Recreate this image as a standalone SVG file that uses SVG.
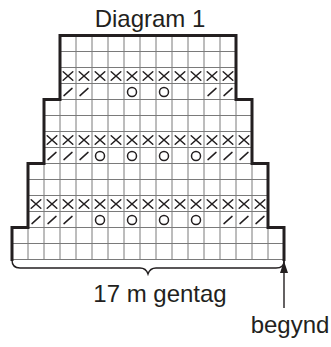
<svg xmlns="http://www.w3.org/2000/svg" xmlns:xlink="http://www.w3.org/1999/xlink" width="331" height="347" viewBox="0 0 331 347">
  <style>
    .txt { font-family: "Liberation Sans", Arial, Helvetica, sans-serif; fill: #231f20; text-anchor: middle; }
    .grid { fill: none; stroke: #7a7a7a; stroke-width: 1; }
    .outline { fill: none; stroke: #231f20; stroke-width: 3; stroke-linejoin: miter; stroke-linecap: square; }
    .sym { fill: none; stroke: #231f20; stroke-width: 1.5; stroke-linecap: round; }
    .conn { fill: none; stroke: #231f20; stroke-width: 1.4; }
  </style>
  <defs>
    <path id="x" class="sym" d="M-4.8,-4.3 L4.8,4.3 M-4.8,4.3 L4.8,-4.3"/>
    <path id="s" class="sym" d="M-4,3.6 L4,-3.6"/>
    <circle id="o" class="sym" cx="0" cy="0" r="4.5"/>
    <marker id="arrowhead" markerWidth="12" markerHeight="8" refX="12" refY="4" orient="auto" markerUnits="userSpaceOnUse" viewBox="0 0 12 8">
      <path d="M0,0 L12,4 L0,8 Z" fill="#231f20"/>
    </marker>
  </defs>
  <rect width="331" height="347" fill="#ffffff"/>

  <g id="title">
    <text class="txt" x="150" y="27" font-size="24">Diagram 1</text>
  </g>

  <g id="chart">
    <path class="grid" d="
      M60,51.5 H236 M60,67.5 H236 M60,83.5 H236
      M44,99.5 H252 M44,115.5 H252 M44,131.5 H252 M44,147.5 H252
      M28,163.5 H268 M28,179.5 H268 M28,195.5 H268 M28,211.5 H268
      M12,227.5 H284 M12,243.5 H284 M12,259.5 H284
      M76,35.5 V259.5 M92,35.5 V259.5 M108,35.5 V259.5 M124,35.5 V259.5 M140,35.5 V259.5
      M156,35.5 V259.5 M172,35.5 V259.5 M188,35.5 V259.5 M204,35.5 V259.5 M220,35.5 V259.5
      M60,99.5 V259.5 M236,99.5 V259.5
      M44,163.5 V259.5 M252,163.5 V259.5
      M28,227.5 V259.5 M268,227.5 V259.5"/>
    <path class="outline" d="M12,259.5 V227.5 H28 V163.5 H44 V99.5 H60 V35.5 H236 V99.5 H252 V163.5 H268 V227.5 H284 V259.5"/>
  </g>

  <g id="row-x-top">
    <use xlink:href="#x" x="68" y="76"/><use xlink:href="#x" x="84" y="76"/><use xlink:href="#x" x="100" y="76"/>
    <use xlink:href="#x" x="116" y="76"/><use xlink:href="#x" x="132" y="76"/><use xlink:href="#x" x="148" y="76"/>
    <use xlink:href="#x" x="164" y="76"/><use xlink:href="#x" x="180" y="76"/><use xlink:href="#x" x="196" y="76"/>
    <use xlink:href="#x" x="212" y="76"/><use xlink:href="#x" x="228" y="76"/>
  </g>
  <g id="row-sym-top">
    <use xlink:href="#s" x="68" y="92"/><use xlink:href="#s" x="84" y="92"/>
    <use xlink:href="#o" x="132" y="92"/><use xlink:href="#o" x="164" y="92"/>
    <use xlink:href="#s" x="212" y="92"/><use xlink:href="#s" x="228" y="92"/>
  </g>

  <g id="row-x-middle">
    <use xlink:href="#x" x="52" y="140"/><use xlink:href="#x" x="68" y="140"/><use xlink:href="#x" x="84" y="140"/>
    <use xlink:href="#x" x="100" y="140"/><use xlink:href="#x" x="116" y="140"/><use xlink:href="#x" x="132" y="140"/>
    <use xlink:href="#x" x="148" y="140"/><use xlink:href="#x" x="164" y="140"/><use xlink:href="#x" x="180" y="140"/>
    <use xlink:href="#x" x="196" y="140"/><use xlink:href="#x" x="212" y="140"/><use xlink:href="#x" x="228" y="140"/>
    <use xlink:href="#x" x="244" y="140"/>
  </g>
  <g id="row-sym-middle">
    <use xlink:href="#s" x="52" y="156"/><use xlink:href="#s" x="68" y="156"/><use xlink:href="#s" x="84" y="156"/>
    <use xlink:href="#o" x="100" y="156"/><use xlink:href="#o" x="132" y="156"/><use xlink:href="#o" x="164" y="156"/>
    <use xlink:href="#o" x="196" y="156"/>
    <use xlink:href="#s" x="212" y="156"/><use xlink:href="#s" x="228" y="156"/><use xlink:href="#s" x="244" y="156"/>
  </g>

  <g id="row-x-bottom">
    <use xlink:href="#x" x="36" y="204"/><use xlink:href="#x" x="52" y="204"/><use xlink:href="#x" x="68" y="204"/>
    <use xlink:href="#x" x="84" y="204"/><use xlink:href="#x" x="100" y="204"/><use xlink:href="#x" x="116" y="204"/>
    <use xlink:href="#x" x="132" y="204"/><use xlink:href="#x" x="148" y="204"/><use xlink:href="#x" x="164" y="204"/>
    <use xlink:href="#x" x="180" y="204"/><use xlink:href="#x" x="196" y="204"/><use xlink:href="#x" x="212" y="204"/>
    <use xlink:href="#x" x="228" y="204"/><use xlink:href="#x" x="244" y="204"/><use xlink:href="#x" x="260" y="204"/>
  </g>
  <g id="row-sym-bottom">
    <use xlink:href="#s" x="36" y="220"/><use xlink:href="#s" x="52" y="220"/><use xlink:href="#s" x="68" y="220"/>
    <use xlink:href="#o" x="100" y="220"/><use xlink:href="#o" x="132" y="220"/><use xlink:href="#o" x="164" y="220"/>
    <use xlink:href="#o" x="196" y="220"/>
    <use xlink:href="#s" x="228" y="220"/><use xlink:href="#s" x="244" y="220"/><use xlink:href="#s" x="260" y="220"/>
  </g>

  <g id="connectors">
    <path id="brace" class="conn" d="M12,260 Q12,268 20,268 H140 Q146,268 148,274 Q150,268 156,268 H276 Q284,268 284,261"/>
    <line id="start-arrow" class="conn" x1="284" y1="308" x2="284" y2="261" marker-end="url(#arrowhead)"/>
  </g>

  <g id="label-repeat">
    <text class="txt" x="160" y="302" font-size="24">17 m gentag</text>
  </g>
  <g id="label-start">
    <text class="txt" x="290" y="333" font-size="24">begynd</text>
  </g>
</svg>
